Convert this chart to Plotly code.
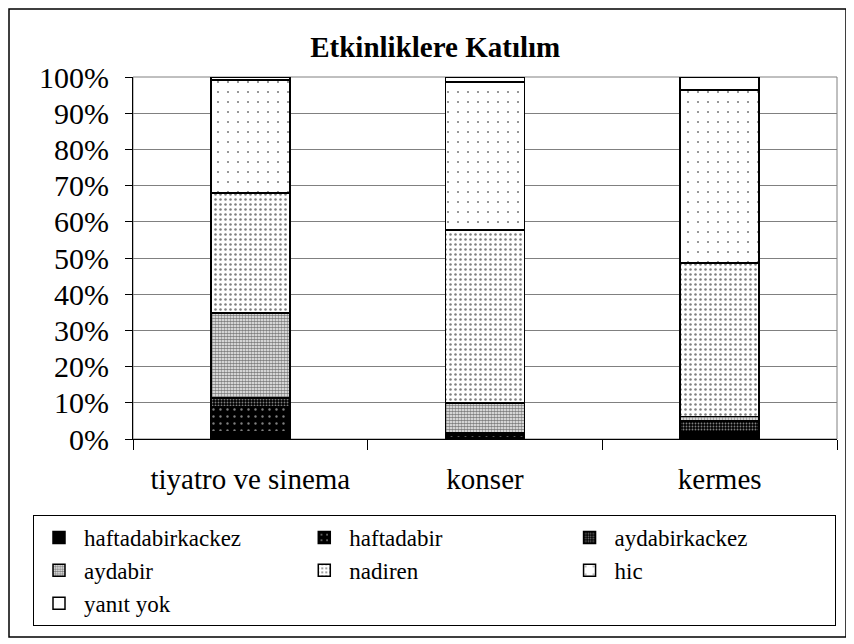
import plotly.graph_objects as go

# data (percent of answers)
categories = ["tiyatro ve sinema", "konser", "kermes"]
haftadabirkackez = [2.0, 0.3, 0.5]
haftadabir = [6.8, 0.9, 1.5]
aydabirkackez = [2.5, 0.5, 3.0]
aydabir = [23.5, 8.2, 1.2]
nadiren = [33.1, 47.8, 42.4]
hic = [31.3, 40.9, 47.8]
yanit_yok = [0.8, 1.4, 3.6]

FONT = "Liberation Serif"

# the page body has an 8px margin, so the figure is 8px smaller than the window
W, H = 846, 636
L, T, PW, PH = 125, 69, 704, 362

series = [
    ("haftadabirkackez", haftadabirkackez, dict(color="black")),
    ("haftadabir", haftadabir,
     dict(color="black", pattern=dict(shape=".", fgcolor="white", bgcolor="black", size=7, solidity=0.09))),
    ("aydabirkackez", aydabirkackez,
     dict(color="black", pattern=dict(shape=".", fgcolor="white", bgcolor="black", size=3, solidity=0.3))),
    ("aydabir", aydabir,
     dict(color="white", pattern=dict(shape=".", fgcolor="black", bgcolor="white", size=3, solidity=0.65))),
    ("nadiren", nadiren,
     dict(color="white", pattern=dict(shape=".", fgcolor="black", bgcolor="white", size=5, solidity=0.2))),
    ("hic", hic,
     dict(color="white", pattern=dict(shape=".", fgcolor="black", bgcolor="white", size=10, solidity=0.035))),
    ("yanıt yok", yanit_yok, dict(color="white")),
]

fig = go.Figure()
for name, vals, marker in series:
    marker = dict(marker)
    marker["line"] = dict(color="black", width=1.5)
    fig.add_trace(go.Bar(x=categories, y=vals, name=name, marker=marker))

fig.update_layout(
    barmode="stack",
    bargap=0.663,
    width=W,
    height=H,
    margin=dict(l=L, r=W - L - PW, t=T, b=H - T - PH, autoexpand=False),
    paper_bgcolor="white",
    plot_bgcolor="white",
    font=dict(family=FONT, color="black"),
    title=dict(text="<b>Etkinliklere Katılım</b>", x=0.505, xanchor="center",
               y=1 - 39 / H, yanchor="middle", font=dict(size=29, family=FONT, color="black")),
    legend=dict(
        orientation="h",
        traceorder="normal",
        x=(25 - L) / PW, xanchor="left",
        y=-0.21, yanchor="top",
        entrywidthmode="fraction",
        entrywidth=0.32,
        bordercolor="black",
        borderwidth=1,
        font=dict(size=23, family=FONT, color="black"),
        itemwidth=40,
    ),
    showlegend=True,
)

fig.update_yaxes(
    range=[0, 100],
    dtick=10,
    ticksuffix="%",
    showgrid=True,
    gridcolor="#808080",
    gridwidth=1,
    showline=True,
    linecolor="black",
    linewidth=1,
    ticks="outside",
    ticklen=7,
    tickcolor="black",
    ticklabelstandoff=10,
    tickfont=dict(size=30, family=FONT, color="black"),
    zeroline=False,
)
fig.update_xaxes(
    showline=True,
    linecolor="black",
    linewidth=1,
    ticks="outside",
    tickson="boundaries",
    ticklen=10,
    tickcolor="black",
    ticklabelstandoff=14,
    tickfont=dict(size=29, family=FONT, color="black"),
)

# plot-area frame (grey) and outer chart border
fig.add_shape(type="rect", xref="paper", yref="paper", x0=0, x1=1, y0=0, y1=1,
              line=dict(color="#808080", width=1), layer="below")
fig.add_shape(type="rect", xref="paper", yref="paper",
              x0=(1 - L) / PW, x1=(838 - L) / PW,
              y0=(T + PH - 629) / PH, y1=(T + PH - 1) / PH,
              line=dict(color="black", width=1.5), layer="below")

fig.write_html("out.html")
